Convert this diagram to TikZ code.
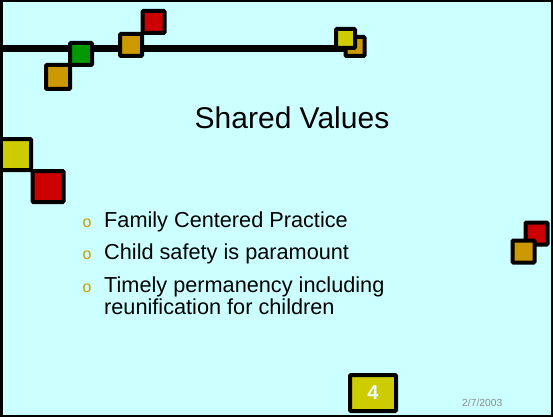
\documentclass[tikz,border=0pt]{standalone}
\usepackage{fontspec}
\setmainfont{Liberation Sans}
\definecolor{slidebg}{HTML}{CCFFFF}
\definecolor{tileyellow}{HTML}{CCCC00}
\definecolor{tileorange}{HTML}{CC9900}
\definecolor{tilered}{HTML}{CC0000}
\definecolor{tilegreen}{HTML}{009900}
\begin{document}
\begin{tikzpicture}[x=1pt,y=-1pt,
  tile/.style={rectangle,draw=black,line width=4pt,rounded corners=1pt,inner sep=0pt,minimum size=#1},
  tile/.default=22pt,
  item/.style={anchor=base west,inner sep=0pt,font=\fontsize{21.7}{24}\selectfont},
  bulletmark/.style={anchor=base west,inner sep=0pt,text=tileorange,font=\fontsize{16}{18}\selectfont}]
  \fill[slidebg] (0,0) rectangle (553,417);
  \useasboundingbox (0,0) rectangle (553,417);
  \draw[line width=7pt] (0,48.5) -- (344,48.5);
  \node[tile=24pt,fill=tileorange] (sqA) at (58,77) {};
  \node[tile,fill=tilegreen] (sqB) at (81,54) {};
  \node[tile,fill=tileorange] (sqC) at (131,45) {};
  \node[tile,fill=tilered] (sqD) at (153.5,22) {};
  \node[tile=19pt,fill=tileorange] (sqE) at (355,46.5) {};
  \node[tile=19pt,fill=tileyellow] (sqF) at (345.5,38.5) {};
  \node[tile=31pt,fill=tileyellow] (sqG) at (15.5,154.5) {};
  \node[tile=31pt,fill=tilered] (sqH) at (48,186.5) {};
  \node[tile,fill=tilered] (sqI) at (536.5,233.5) {};
  \node[tile,fill=tileorange] (sqJ) at (523.5,251.5) {};
  \node[anchor=base,inner sep=0pt,font=\fontsize{30}{34}\selectfont] (title) at (292,128) {Shared Values};
  \node[bulletmark] (markA) at (82.5,227) {o};
  \node[item] (itemA) at (104,227) {Family Centered Practice};
  \node[bulletmark] (markB) at (82.5,259) {o};
  \node[item] (itemB) at (104,259) {Child safety is paramount};
  \node[bulletmark] (markC) at (82.5,292) {o};
  \node[item] (itemC) at (104,292) {Timely permanency including};
  \node[item] (itemD) at (104,314) {reunification for children};
  \node[rectangle,draw=black,line width=4pt,rounded corners=1pt,fill=tileyellow,minimum width=46pt,minimum height=36pt,
        text=slidebg!40!white,font=\fontsize{20}{22}\selectfont\bfseries] (pagenum) at (373,393) {4};
  \node[anchor=base west,inner sep=0pt,text=black!45,font=\fontsize{10.3}{12}\selectfont] (date) at (462,406) {2/7/2003};
  \draw[line width=2.5pt] (1.25,1.25) rectangle (551.75,415.75);
\end{tikzpicture}
\end{document}
